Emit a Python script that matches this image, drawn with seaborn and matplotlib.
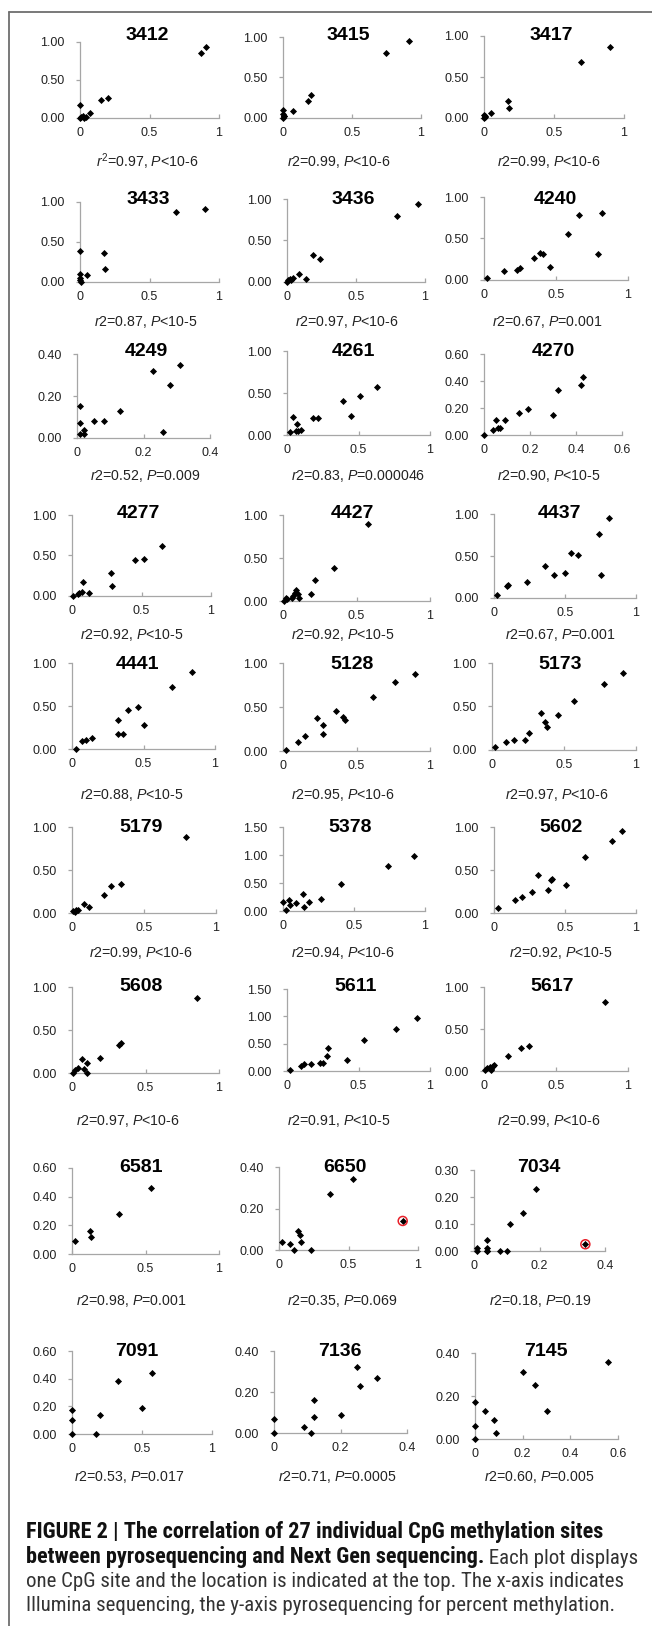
import matplotlib
matplotlib.use("Agg")
import matplotlib.pyplot as plt
import seaborn as sns
import pandas as pd
from matplotlib.lines import Line2D

# ---------------- data ----------------
sites = ["3412", "3415", "3417", "3433", "3436", "4240", "4249", "4261", "4270",
         "4277", "4427", "4437", "4441", "5128", "5173", "5179", "5378", "5602",
         "5608", "5611", "5617", "6581", "6650", "7034", "7091", "7136", "7145"]

x_3412 = [0.00, 0.00, 0.01, 0.02, 0.03, 0.04, 0.07, 0.15, 0.20, 0.87, 0.91]
y_3412 = [0.17, 0.00, 0.01, 0.03, 0.00, 0.01, 0.07, 0.24, 0.26, 0.86, 0.94]
x_3415 = [0.00, 0.00, 0.01, 0.00, 0.01, 0.07, 0.18, 0.20, 0.75, 0.91]
y_3415 = [0.10, 0.05, 0.03, 0.00, 0.02, 0.09, 0.21, 0.28, 0.80, 0.95]
x_3417 = [0.00, 0.01, 0.00, 0.01, 0.05, 0.17, 0.18, 0.69, 0.90]
y_3417 = [0.04, 0.02, 0.00, 0.01, 0.06, 0.21, 0.12, 0.68, 0.87]
x_3433 = [0.00, 0.00, 0.00, 0.00, 0.01, 0.05, 0.17, 0.18, 0.69, 0.90]
y_3433 = [0.39, 0.10, 0.05, 0.02, 0.00, 0.09, 0.36, 0.16, 0.87, 0.91]
x_3436 = [0.00, 0.01, 0.02, 0.03, 0.04, 0.09, 0.14, 0.19, 0.24, 0.80, 0.95]
y_3436 = [0.00, 0.02, 0.04, 0.03, 0.05, 0.10, 0.04, 0.32, 0.28, 0.79, 0.94]
x_4240 = [0.02, 0.14, 0.23, 0.25, 0.35, 0.39, 0.41, 0.46, 0.58, 0.66, 0.79, 0.82]
y_4240 = [0.02, 0.11, 0.12, 0.15, 0.26, 0.33, 0.31, 0.16, 0.56, 0.78, 0.31, 0.81]
x_4249 = [0.01, 0.01, 0.02, 0.02, 0.01, 0.05, 0.08, 0.13, 0.23, 0.26, 0.28, 0.31]
y_4249 = [0.15, 0.07, 0.04, 0.02, 0.02, 0.08, 0.08, 0.13, 0.32, 0.03, 0.25, 0.35]
x_4261 = [0.02, 0.04, 0.07, 0.06, 0.08, 0.10, 0.18, 0.22, 0.39, 0.45, 0.51, 0.63]
y_4261 = [0.04, 0.21, 0.13, 0.05, 0.05, 0.06, 0.20, 0.20, 0.40, 0.23, 0.46, 0.57]
x_4270 = [0.00, 0.04, 0.05, 0.06, 0.07, 0.09, 0.15, 0.19, 0.30, 0.32, 0.42, 0.43]
y_4270 = [0.00, 0.04, 0.11, 0.05, 0.05, 0.11, 0.16, 0.19, 0.15, 0.33, 0.37, 0.43]
x_4277 = [0.01, 0.04, 0.05, 0.07, 0.08, 0.12, 0.28, 0.29, 0.45, 0.52, 0.65]
y_4277 = [0.00, 0.03, 0.04, 0.05, 0.17, 0.04, 0.28, 0.12, 0.44, 0.46, 0.62]
x_4427 = [0.01, 0.02, 0.03, 0.06, 0.07, 0.08, 0.09, 0.10, 0.11, 0.19, 0.22, 0.35, 0.58]
y_4427 = [0.00, 0.04, 0.02, 0.04, 0.06, 0.09, 0.13, 0.08, 0.03, 0.08, 0.24, 0.38, 0.89]
x_4437 = [0.02, 0.09, 0.10, 0.23, 0.36, 0.42, 0.50, 0.54, 0.59, 0.74, 0.75, 0.81]
y_4437 = [0.04, 0.14, 0.15, 0.19, 0.38, 0.27, 0.30, 0.54, 0.51, 0.76, 0.27, 0.95]
x_4441 = [0.03, 0.07, 0.10, 0.14, 0.32, 0.32, 0.36, 0.39, 0.46, 0.50, 0.70, 0.84]
y_4441 = [0.00, 0.09, 0.10, 0.13, 0.34, 0.18, 0.18, 0.45, 0.49, 0.28, 0.72, 0.90]
x_5128 = [0.02, 0.10, 0.15, 0.23, 0.27, 0.27, 0.36, 0.41, 0.42, 0.61, 0.76, 0.90]
y_5128 = [0.01, 0.10, 0.17, 0.37, 0.29, 0.19, 0.45, 0.39, 0.35, 0.61, 0.78, 0.88]
x_5173 = [0.02, 0.10, 0.15, 0.23, 0.26, 0.34, 0.37, 0.38, 0.46, 0.57, 0.78, 0.91]
y_5173 = [0.03, 0.09, 0.12, 0.12, 0.20, 0.42, 0.32, 0.27, 0.40, 0.56, 0.76, 0.88]
x_5179 = [0.01, 0.02, 0.03, 0.04, 0.08, 0.12, 0.22, 0.27, 0.34, 0.79]
y_5179 = [0.02, 0.01, 0.03, 0.03, 0.10, 0.07, 0.21, 0.31, 0.34, 0.88]
x_5378 = [0.00, 0.02, 0.04, 0.05, 0.09, 0.14, 0.15, 0.18, 0.27, 0.41, 0.74, 0.92]
y_5378 = [0.16, 0.02, 0.19, 0.11, 0.15, 0.30, 0.08, 0.16, 0.22, 0.48, 0.80, 0.99]
x_5602 = [0.03, 0.15, 0.20, 0.27, 0.31, 0.38, 0.40, 0.41, 0.51, 0.64, 0.83, 0.90]
y_5602 = [0.06, 0.15, 0.19, 0.24, 0.44, 0.27, 0.38, 0.39, 0.32, 0.65, 0.84, 0.95]
x_5608 = [0.01, 0.02, 0.04, 0.07, 0.08, 0.10, 0.10, 0.19, 0.32, 0.33, 0.85]
y_5608 = [0.00, 0.03, 0.06, 0.16, 0.05, 0.12, 0.00, 0.17, 0.33, 0.35, 0.87]
x_5611 = [0.02, 0.10, 0.12, 0.17, 0.23, 0.25, 0.28, 0.29, 0.42, 0.54, 0.76, 0.91]
y_5611 = [0.02, 0.10, 0.13, 0.12, 0.15, 0.14, 0.28, 0.42, 0.20, 0.56, 0.77, 0.97]
x_5617 = [0.01, 0.02, 0.04, 0.05, 0.05, 0.06, 0.07, 0.17, 0.26, 0.31, 0.84]
y_5617 = [0.01, 0.03, 0.05, 0.02, 0.01, 0.06, 0.07, 0.18, 0.27, 0.30, 0.82]
x_6581 = [0.02, 0.12, 0.13, 0.32, 0.54]
y_6581 = [0.09, 0.16, 0.12, 0.28, 0.46]
x_6650 = [0.02, 0.08, 0.11, 0.14, 0.15, 0.16, 0.23, 0.37, 0.53, 0.89]
y_6650 = [0.04, 0.03, 0.00, 0.09, 0.07, 0.04, 0.00, 0.27, 0.34, 0.14]
x_7034 = [0.01, 0.01, 0.04, 0.04, 0.04, 0.04, 0.08, 0.10, 0.11, 0.15, 0.19, 0.34]
y_7034 = [0.00, 0.01, 0.00, 0.04, 0.01, 0.00, 0.00, 0.00, 0.10, 0.14, 0.23, 0.025]
x_7091 = [0.00, 0.00, 0.00, 0.17, 0.20, 0.33, 0.50, 0.57]
y_7091 = [0.00, 0.10, 0.17, 0.00, 0.14, 0.38, 0.19, 0.44]
x_7136 = [0.00, 0.00, 0.09, 0.11, 0.12, 0.12, 0.20, 0.25, 0.26, 0.31]
y_7136 = [0.00, 0.07, 0.03, 0.00, 0.16, 0.08, 0.09, 0.32, 0.23, 0.27]
x_7145 = [0.00, 0.00, 0.00, 0.04, 0.08, 0.09, 0.20, 0.25, 0.30, 0.56]
y_7145 = [0.00, 0.06, 0.17, 0.13, 0.09, 0.03, 0.31, 0.25, 0.13, 0.36]

# outlier points circled in red (site -> index of point)
circled = {"6650": 9, "7034": 11}

# axis maxima and tick steps
x_max = [1, 1, 1, 1, 1, 1, 0.4, 1, 0.6, 1, 1, 1, 1, 1, 1, 1, 1, 1,
         1, 1, 1, 1, 1, 0.4, 1, 0.4, 0.6]
x_step = [0.5, 0.5, 0.5, 0.5, 0.5, 0.5, 0.2, 0.5, 0.2, 0.5, 0.5, 0.5, 0.5, 0.5, 0.5,
          0.5, 0.5, 0.5, 0.5, 0.5, 0.5, 0.5, 0.5, 0.2, 0.5, 0.2, 0.2]
y_max = [1, 1, 1, 1, 1, 1, 0.4, 1, 0.6, 1, 1, 1, 1, 1, 1, 1, 1.5, 1,
         1, 1.5, 1, 0.6, 0.4, 0.3, 0.6, 0.4, 0.4]
y_step = [0.5, 0.5, 0.5, 0.5, 0.5, 0.5, 0.2, 0.5, 0.2, 0.5, 0.5, 0.5, 0.5, 0.5, 0.5,
          0.5, 0.5, 0.5, 0.5, 0.5, 0.5, 0.2, 0.2, 0.1, 0.2, 0.2, 0.2]

r2_values = ["0.97", "0.99", "0.99", "0.87", "0.97", "0.67", "0.52", "0.83", "0.90",
             "0.92", "0.92", "0.67", "0.88", "0.95", "0.97", "0.99", "0.94", "0.92",
             "0.97", "0.91", "0.99", "0.98", "0.35", "0.18", "0.53", "0.71", "0.60"]
p_values = ["<10-6", "<10-6", "<10-6", "<10-5", "<10-6", "=0.001", "=0.009", "=0.000046",
            "<10-5", "<10-5", "<10-5", "=0.001", "<10-5", "<10-6", "<10-6", "<10-6",
            "<10-6", "<10-5", "<10-6", "<10-5", "<10-6", "=0.001", "=0.069", "=0.19",
            "=0.017", "=0.0005", "=0.005"]

caption_bold_1 = "FIGURE 2 | The correlation of 27 individual CpG methylation sites"
caption_bold_2 = "between pyrosequencing and Next Gen sequencing."
caption_reg_2 = " Each plot displays"
caption_reg_3 = "one CpG site and the location is indicated at the top. The x-axis indicates"
caption_reg_4 = "Illumina sequencing, the y-axis pyrosequencing for percent methylation."

# ---------------- layout (pixels) ----------------
W, H = 652, 1626
boxes = [(80, 219, 42, 118), (283, 421, 37, 118), (484, 624, 36, 118),
         (80, 219, 202, 282), (287, 425, 199, 282), (484, 628, 197, 280),
         (77, 210, 354, 438), (287, 430, 351, 435), (484, 622, 354, 435),
         (72, 211, 515, 596), (283, 430, 515, 601), (494, 636, 514, 598),
         (72, 215, 663, 749), (283, 430, 663, 751), (492, 636, 663, 750),
         (72, 216, 827, 913), (283, 425, 827, 911), (494, 636, 827, 913),
         (72, 219, 987, 1073), (287, 430, 989, 1071), (484, 628, 987, 1071),
         (72, 219, 1168, 1254), (279, 418, 1167, 1250), (474, 605, 1170, 1251),
         (72, 212, 1351, 1434), (274, 407, 1351, 1433), (475, 618, 1353, 1439)]
title_x = [147, 348, 551, 148, 353, 555, 146, 353, 553, 138, 352, 560, 138, 352, 560,
           141, 350, 561, 141, 356, 552, 141, 345, 539, 137, 340, 546]
title_y = [36, 199, 352, 513, 664, 827, 986, 1167, 1351]
note_x = [147, 339, 549, 146, 347, 547, 145, 358, 549, 132, 343, 560, 132, 343, 557,
          141, 343, 561, 128, 339, 549, 131, 342, 540, 129, 337, 539]
note_y = [162, 322, 476, 635, 795, 953, 1121, 1301, 1477]
cap_base_y = [1538, 1563, 1587, 1611]
cap_widths = [576, 614, 596, 592]

sns.set_style("white")
plt.rcParams["font.family"] = ["Liberation Sans", "DejaVu Sans"]
plt.rcParams["mathtext.fontset"] = "custom"
plt.rcParams["mathtext.rm"] = "Liberation Sans"
plt.rcParams["mathtext.it"] = "Liberation Sans:italic"
plt.rcParams["mathtext.bf"] = "Liberation Sans:bold"

AXC = "#a6a6a6"
TXT = "#222222"

fig = plt.figure(figsize=(W / 100, H / 100), dpi=100)

data_map = globals()
for i, site in enumerate(sites):
    l, r, t, b = boxes[i]
    ax = fig.add_axes([l / W, 1 - b / H, (r - l) / W, (b - t) / H])
    xs = data_map["x_" + site]
    ys = data_map["y_" + site]
    df = pd.DataFrame({"x": xs, "y": ys})
    sns.scatterplot(data=df, x="x", y="y", ax=ax, marker="D", color="black",
                    s=13, linewidth=0, clip_on=False, zorder=3)
    if site in circled:
        k = circled[site]
        ax.scatter([xs[k]], [ys[k]], s=42, facecolors="none", edgecolors="#e8202a",
                   linewidths=1.1, clip_on=False, zorder=4)
    ax.set_xlim(0, x_max[i])
    ax.set_ylim(0, y_max[i])
    nx = int(round(x_max[i] / x_step[i]))
    ny = int(round(y_max[i] / y_step[i]))
    xt = [round(j * x_step[i], 2) for j in range(nx + 1)]
    yt = [round(j * y_step[i], 2) for j in range(ny + 1)]
    ax.set_xticks(xt)
    ax.set_xticklabels([f"{v:g}" for v in xt])
    ax.set_yticks(yt)
    ax.set_yticklabels([f"{v:.2f}" for v in yt])
    ax.set_xlabel("")
    ax.set_ylabel("")
    for sp in ["top", "right"]:
        ax.spines[sp].set_visible(False)
    for sp in ["left", "bottom"]:
        ax.spines[sp].set_color(AXC)
        ax.spines[sp].set_linewidth(0.9)
    ax.tick_params(axis="x", bottom=True, direction="in", length=3, width=0.9,
                   color=AXC, pad=6.5, labelsize=9, labelcolor=TXT)
    ax.tick_params(axis="y", left=True, direction="out", length=3, width=0.9,
                   color=AXC, pad=8, labelsize=9, labelcolor=TXT)
    ax.set_facecolor("none")

    row = i // 3
    fig.text(title_x[i] / W, 1 - title_y[row] / H, site, ha="center", va="center",
             fontsize=14, fontweight="bold", color="black")
    if i == 0:
        note = r"$\mathit{r}^{2}$=" + r2_values[i] + r", $\mathit{P}$" + p_values[i]
    else:
        note = r"$\mathit{r2}$=" + r2_values[i] + r", $\mathit{P}$" + p_values[i]
    fig.text(note_x[i] / W, 1 - note_y[row] / H, note, ha="center", va="center",
             fontsize=10.2, color=TXT)

# frame
fig.add_artist(Line2D([9 / W, 9 / W], [0, 1 - 12 / H], transform=fig.transFigure,
                      color="#6e6e6e", lw=1.3))
fig.add_artist(Line2D([9 / W, 1], [1 - 12 / H, 1 - 12 / H], transform=fig.transFigure,
                      color="#6e6e6e", lw=1.3))

# caption
cap_family = ["Roboto Condensed", "Liberation Sans Narrow", "Liberation Sans"]
cap_size = 13.8
cx = 26 / W
t1 = fig.text(cx, 1 - cap_base_y[0] / H, caption_bold_1, ha="left", va="baseline",
              fontsize=cap_size, fontweight="bold", family=cap_family, color="#111111")
t2 = fig.text(cx, 1 - cap_base_y[1] / H, caption_bold_2, ha="left", va="baseline",
              fontsize=cap_size, fontweight="bold", family=cap_family, color="#111111")
t2b = fig.axes[0].annotate(caption_reg_2, xy=(1, 0), xycoords=t2, ha="left", va="bottom",
                           fontsize=cap_size, family=cap_family, color="#333333",
                           annotation_clip=False)
t3 = fig.text(cx, 1 - cap_base_y[2] / H, caption_reg_3, ha="left", va="baseline",
              fontsize=cap_size, family=cap_family, color="#333333")
t4 = fig.text(cx, 1 - cap_base_y[3] / H, caption_reg_4, ha="left", va="baseline",
              fontsize=cap_size, family=cap_family, color="#333333")

# fit caption font sizes (bold and regular separately) to the reference line widths
fig.canvas.draw()
rend = fig.canvas.get_renderer()
w1 = t1.get_window_extent(rend).width
w3 = t3.get_window_extent(rend).width
w4 = t4.get_window_extent(rend).width
bold_size = cap_size * cap_widths[0] / w1
reg_size = cap_size * min(cap_widths[2] / w3, cap_widths[3] / w4)
w2b = t2.get_window_extent(rend).width * bold_size / cap_size
w2r = t2b.get_window_extent(rend).width * reg_size / cap_size
shrink = min(1.0, cap_widths[1] / (w2b + w2r))
for t in (t1, t2):
    t.set_fontsize(bold_size * shrink if t is t2 else bold_size)
for t in (t3, t4):
    t.set_fontsize(reg_size)
t2b.set_fontsize(reg_size * shrink)

fig.savefig("out.png", dpi=100, facecolor="white")
